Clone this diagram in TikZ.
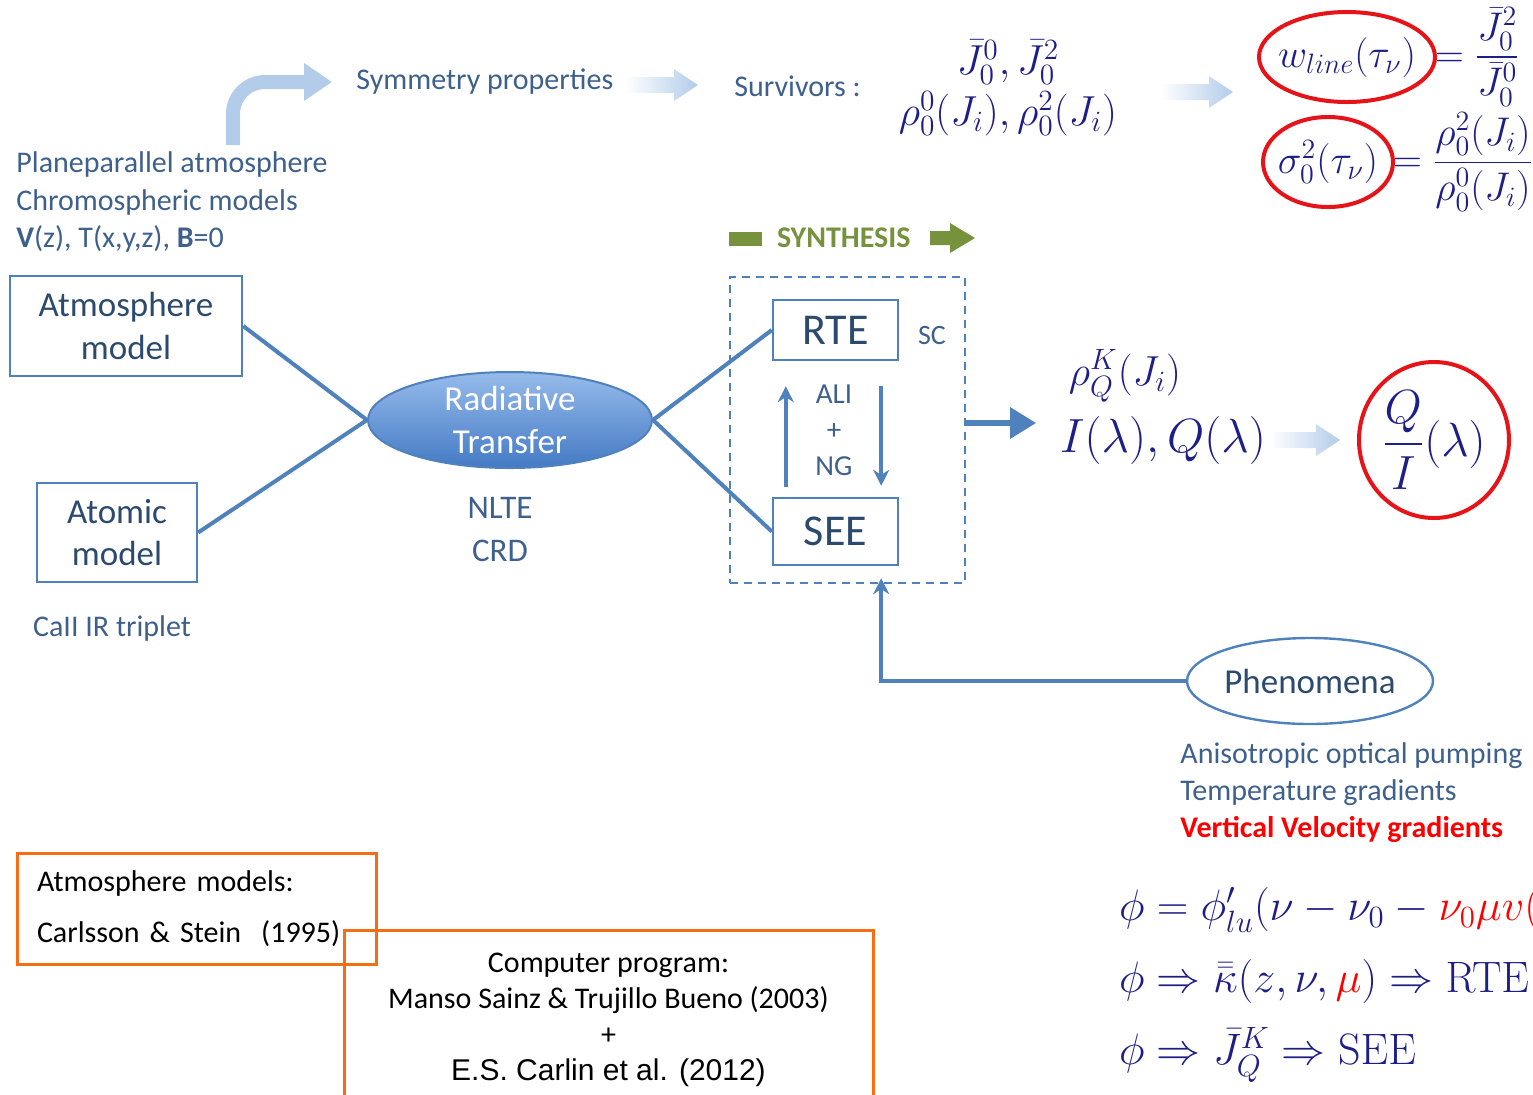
\RequirePackage{fix-cm}
\documentclass[tikz,border=0pt]{standalone}
\usepackage{amsmath}
\usepackage[no-math]{fontspec}
\setmainfont{Carlito}
\newfontfamily\arialfont{Liberation Sans}
\usetikzlibrary{arrows.meta}
\usetikzlibrary{shapes.geometric}

\definecolor{txtblue}{RGB}{62,96,140}
\definecolor{boxtxt}{RGB}{44,74,110}
\definecolor{linkblue}{RGB}{79,129,189}
\definecolor{paleblue}{RGB}{178,204,234}
\definecolor{mathnavy}{RGB}{30,30,135}
\definecolor{ringred}{RGB}{230,20,25}
\definecolor{synthgreen}{RGB}{118,146,60}
\definecolor{refline}{RGB}{245,110,20}

\begin{document}
\begin{tikzpicture}[x=0.5pt, y=-0.5pt,
		txt/.style={font=\fontsize{15pt}{18.75pt}\selectfont, text=txtblue, inner sep=2pt},
		box/.style={draw=linkblue, line width=1.2pt, text=boxtxt, align=center, inner sep=0pt},
		link/.style={draw=linkblue, line width=2pt},
		flow/.style={draw=linkblue, line width=2pt, -{Stealth[length=8pt,width=8pt]}},
		ring/.style={draw=ringred, line width=2pt},
		mth/.style={text=mathnavy},
		fade/.style={left color=white, right color=paleblue, draw=none},
		refbox/.style={draw=refline, line width=1.5pt, inner sep=0pt}
		]
		\useasboundingbox (0,0) rectangle (1533,1094);
		
		% left column
		\node[txt, anchor=west, align=left] (plane) at (12,202) {Planeparallel atmosphere\\Chromospheric models\\\textbf{V}(z), T(x,y,z), \textbf{B}=0};
		\node[box, minimum width=116pt, minimum height=50pt, font=\fontsize{17.5pt}{21.5pt}\selectfont] (atm) at (126,326) {Atmosphere\\model};
		\node[box, minimum width=80pt, minimum height=49.5pt, font=\fontsize{17.5pt}{21pt}\selectfont] (atom) at (117,532.5) {Atomic\\model};
		\node[txt] (ion) at (112,628) {CaII IR triplet};
		
		\node[ellipse, draw=linkblue, line width=1pt, top color={rgb,255:red,150;green,187;blue,235}, bottom color={rgb,255:red,68;green,122;blue,196}, minimum width=142pt, minimum height=48pt, inner sep=0pt] (rt) at (510,420) {};
		\node[font=\fontsize{17.5pt}{21.5pt}\selectfont, text=white, align=center] (rtname) at (rt) {Radiative\\Transfer};
		\node[txt, align=center, font=\fontsize{16.5pt}{21.5pt}\selectfont] (nlte) at (500,530) {NLTE\\CRD};
		
		% synthesis loop
		\node[box, minimum width=62.5pt, minimum height=30pt, font=\fontsize{22pt}{26pt}\selectfont] (rte) at (835.5,330) {RTE};
		\node[box, minimum width=62.5pt, minimum height=33.5pt, font=\fontsize{22pt}{26pt}\selectfont] (see) at (835.5,531.5) {SEE};
		\node[draw=linkblue, line width=1.2pt, dash pattern=on 4pt off 3pt, minimum width=117.5pt, minimum height=153pt, inner sep=0pt] (loop) at (847.5,430) {};
		\node[txt, font=\fontsize{14pt}{17pt}\selectfont] (sc) at (932,336) {SC};
		\node[txt, align=center, font=\fontsize{14.5pt}{18pt}\selectfont] (ali) at (834,430) {ALI\\+\\NG};
		\draw[flow] ([xshift=7pt,yshift=5pt]see.north west) -- ([xshift=7pt,yshift=-12.5pt]rte.south west);
		\draw[flow] ([xshift=-9pt,yshift=-12.5pt]rte.south east) -- ([xshift=-9pt,yshift=5.5pt]see.north east);
		
		\fill[synthgreen] (729,232) rectangle (762,246);
		\node[font=\fontsize{15pt}{18pt}\selectfont\bfseries, text=synthgreen, anchor=west] (synth) at (770,238) {SYNTHESIS};
		\fill[synthgreen] (930,231) -- (950,231) -- (950,223) -- (975,238) -- (950,253) -- (950,245) -- (930,245) -- cycle;
		
		\draw[link] (atm.east) -- (rt.west);
		\draw[link] (atom.east) -- (rt.west);
		\draw[link] (rt.east) -- (rte.west);
		\draw[link] (rt.east) -- (see.west);
		
		% top row
		\node[txt, anchor=west] (sym) at (352,82) {Symmetry properties};
		\node[txt, anchor=west] (surv) at (730,86) {Survivors :};
		\node[mth, align=center, font=\fontsize{21pt}{25.5pt}\selectfont] (surm) at (1008,88) {$\bar J^0_0, \bar J^2_0$\\$\rho^0_0(J_i), \rho^2_0(J_i)$};
		\coordinate (bend) at (233,145);
		\draw[draw=paleblue, line width=7pt, rounded corners=16pt, -{Triangle[length=14pt,width=18pt]}] (bend) |- ([xshift=-10pt]sym.west);
		\foreach \a/\b/\y in {625/698/85, 1160/1233/92, 1270/1340/440}
		\shade[fade] (\a,\y-8) -- ({\b-24},\y-8) -- ({\b-24},\y-16) -- (\b,\y) -- ({\b-24},\y+16) -- ({\b-24},\y+8) -- (\a,\y+8) -- cycle;
		
		% write math symbols
		\node[mth, font=\fontsize{20pt}{24pt}\selectfont] (wl) at (1347,57) {$w_{line}(\tau_\nu)$};
		\draw[ring] (wl) ellipse [x radius=88, y radius=45];
		\node[mth, font=\fontsize{20pt}{24pt}\selectfont, anchor=west] (wlfrac) at (1428,57) {$=\dfrac{\bar J^2_0}{\bar J^0_0}$};
		\node[mth, font=\fontsize{20pt}{24pt}\selectfont] (sg) at (1328,162) {$\sigma^2_0(\tau_\nu)$};
		\draw[ring] (sg) ellipse [x radius=65, y radius=45];
		\node[mth, font=\fontsize{20pt}{24pt}\selectfont, anchor=west] (sgfrac) at (1386,162) {$=\dfrac{\rho^2_0(J_i)}{\rho^0_0(J_i)}$};
		
		\draw[link, line width=3pt, -{Triangle[length=13pt,width=15pt]}] ([yshift=3.5pt]loop.east) -- ++(35pt,0);
		\node[mth, font=\fontsize{21pt}{24pt}\selectfont] (rhok) at (1125,376) {$\rho^K_Q(J_i)$};
		\node[mth, font=\fontsize{24pt}{28pt}\selectfont] (iq) at (1163,440) {$I(\lambda), Q(\lambda)$};
		\node[mth, font=\fontsize{24pt}{28pt}\selectfont] (qi) at (1434,440) {$\dfrac{Q}{I}(\lambda)$};
		\draw[ring] (qi) ellipse [x radius=75, y radius=78];
		
		% phenomena
		\node[ellipse, draw=linkblue, line width=1.2pt, minimum width=123pt, minimum height=43pt, inner sep=0pt, text=boxtxt, font=\fontsize{17.5pt}{21pt}\selectfont] (phen) at (1310,681) {Phenomena};
		\draw[flow] (phen.west) -| ([xshift=-9pt,yshift=-6pt]see.south east);
		\node[txt, anchor=west, align=left, font=\fontsize{15pt}{18.5pt}\selectfont] (effects) at (1176,793) {Anisotropic optical pumping\\Temperature gradients\\\textcolor{red}{\textbf{Vertical Velocity gradients}}};
		\node[mth, anchor=west, align=left, font=\fontsize{22pt}{36pt}\selectfont] (eqs) at (1112,985) {$\phi = \phi'_{lu}(\nu - \nu_0 - {\color{red}\nu_0\mu v(}$\\$\phi \Rightarrow \bar{\bar\kappa}(z,\nu,{\color{red}\mu}) \Rightarrow \mathrm{RTE}$\\$\phi \Rightarrow \bar J^K_Q \Rightarrow \mathrm{SEE}$};
		
		% references
		\node[refbox, text width=159.5pt, inner xsep=10pt, minimum height=55.5pt, align=left, font=\fontsize{15pt}{25.5pt}\selectfont] (atmref) at (196.5,908.5) {Atmosphere models:\\Carlsson \& Stein\ \ (1995)};
		\node[refbox, minimum width=264.5pt, minimum height=90pt, align=center, font=\fontsize{15pt}{18pt}\selectfont] (code) at (608.5,1020) {Computer program:\\Manso Sainz \& Trujillo Bueno (2003)\\+\\{\arialfont E.S. Carlin et al. (2012)}};
		
	\end{tikzpicture}
\end{document}
